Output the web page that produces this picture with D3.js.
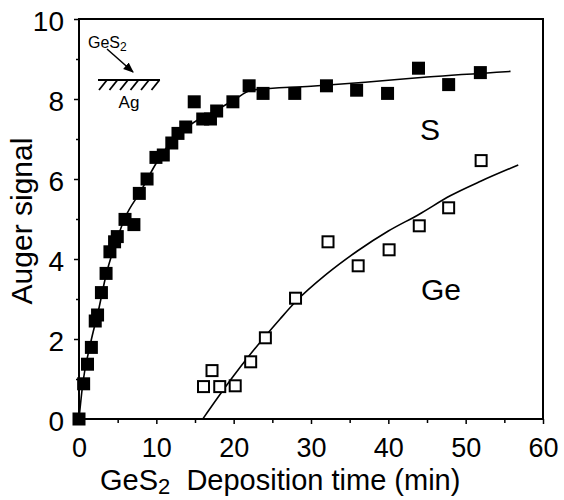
<!DOCTYPE html>
<html>
<head>
<meta charset="utf-8">
<script src="https://cdn.jsdelivr.net/npm/d3@7"></script>
<style>
  body { margin: 0; background: #fff; }
  text { font-family: "Liberation Sans", Arial, sans-serif; fill: #000; }
</style>
</head>
<body>
<div class="chart"></div>
<script>
// S signal (filled squares)
const sTime   = [0, 0.6, 1.1, 1.6, 2.1, 2.4, 2.9, 3.5, 4.0, 4.6, 4.95, 5.95, 7.1, 7.8, 8.8, 9.95, 10.9, 12.0, 12.8, 13.8, 14.9, 16.0, 17.0, 17.8, 19.9, 22.0, 23.8, 27.9, 32.0, 35.9, 39.9, 43.9, 47.8, 51.9];
const sSignal = [0, 0.88, 1.37, 1.79, 2.45, 2.6, 3.16, 3.64, 4.18, 4.43, 4.56, 4.99, 4.86, 5.64, 6.0, 6.54, 6.6, 6.9, 7.14, 7.3, 7.93, 7.5, 7.5, 7.7, 7.93, 8.33, 8.14, 8.14, 8.33, 8.22, 8.14, 8.77, 8.36, 8.66];
// S fit curve
const sFitTime   = [0, 0.5, 1.5, 2.5, 3.5, 5, 6, 8, 10, 12, 14, 16, 18, 20, 22.3, 30, 37, 45, 55.8];
const sFitSignal = [0, 0.9, 1.9, 2.7, 3.6, 4.55, 5.05, 5.7, 6.4, 6.95, 7.3, 7.55, 7.75, 7.97, 8.22, 8.32, 8.42, 8.55, 8.69];

// Ge signal (open squares)
const geTime   = [16.1, 17.2, 18.2, 20.2, 22.2, 24.1, 28.0, 32.2, 36.1, 40.1, 44.0, 47.8, 52.0];
const geSignal = [0.81, 1.21, 0.81, 0.83, 1.43, 2.03, 3.02, 4.43, 3.83, 4.23, 4.83, 5.28, 6.46];
// Ge fit curve
const geFitTime   = [16, 18, 20, 22, 24, 26, 28, 32, 36, 40, 44, 48, 52, 56.8];
const geFitSignal = [0, 0.55, 1.08, 1.58, 2.05, 2.5, 2.93, 3.62, 4.2, 4.7, 5.12, 5.58, 5.95, 6.35];

const xTicks = [0, 10, 20, 30, 40, 50, 60];
const yTicks = [0, 2, 4, 6, 8, 10];

const W = 564, H = 500;
const margin = {top: 19, right: 21, bottom: 81, left: 79};
const width = W - margin.left - margin.right;
const height = H - margin.top - margin.bottom;

const svg = d3.select('.chart').append('svg')
    .attr('width', W)
    .attr('height', H)
  .append('g')
    .attr('transform', `translate(${margin.left},${margin.top})`);

const x = d3.scaleLinear().domain([0, 60]).range([0, width]);
const y = d3.scaleLinear().domain([0, 10]).range([height, 0]);

// minor ticks
svg.append('g')
    .attr('transform', `translate(0,${height})`)
    .call(d3.axisBottom(x).tickValues(d3.range(5, 60, 10)).tickSize(4).tickFormat(''))
    .call(g => g.select('.domain').remove())
    .selectAll('line').attr('stroke-width', 1.5);

svg.append('g')
    .call(d3.axisLeft(y).tickValues(d3.range(1, 10, 2)).tickSize(3).tickFormat(''))
    .call(g => g.select('.domain').remove())
    .selectAll('line').attr('stroke-width', 1.5);

// major ticks
svg.append('g')
    .attr('transform', `translate(0,${height})`)
    .call(d3.axisBottom(x).tickValues(xTicks).tickSize(5).tickPadding(14))
    .call(g => g.select('.domain').remove())
    .call(g => g.selectAll('line').attr('stroke-width', 1.5))
    .selectAll('text')
    .attr('font-size', 27)
    .attr('font-family', '"Liberation Sans", Arial, sans-serif');

svg.append('g')
    .call(d3.axisLeft(y).tickValues(yTicks).tickSize(5).tickPadding(10))
    .call(g => g.select('.domain').remove())
    .call(g => g.selectAll('line').attr('stroke-width', 1.5))
    .selectAll('text')
    .attr('font-size', 28)
    .attr('dy', '0.4em')
    .attr('font-family', '"Liberation Sans", Arial, sans-serif');

// frame
svg.append('rect')
    .attr('width', width)
    .attr('height', height)
    .attr('fill', 'none')
    .attr('stroke', '#000')
    .attr('stroke-width', 2);

const line = d3.line()
    .curve(d3.curveMonotoneX)
    .x(d => x(d[0]))
    .y(d => y(d[1]));

svg.append('path')
    .datum(d3.zip(sFitTime, sFitSignal))
    .attr('fill', 'none')
    .attr('stroke', '#000')
    .attr('stroke-width', 1.6)
    .attr('d', line);

svg.append('path')
    .datum(d3.zip(geFitTime, geFitSignal))
    .attr('fill', 'none')
    .attr('stroke', '#000')
    .attr('stroke-width', 1.6)
    .attr('d', line);

const sq = 13;
svg.append('g')
    .selectAll('rect')
    .data(d3.zip(sTime, sSignal))
    .join('rect')
    .attr('x', d => x(d[0]) - sq / 2)
    .attr('y', d => y(d[1]) - sq / 2)
    .attr('width', sq)
    .attr('height', sq)
    .attr('fill', '#000');

const osq = 11;
svg.append('g')
    .selectAll('rect')
    .data(d3.zip(geTime, geSignal))
    .join('rect')
    .attr('x', d => x(d[0]) - osq / 2)
    .attr('y', d => y(d[1]) - osq / 2)
    .attr('width', osq)
    .attr('height', osq)
    .attr('fill', '#fff')
    .attr('stroke', '#000')
    .attr('stroke-width', 2);

// series labels
svg.append('text')
    .attr('x', x(45.4))
    .attr('y', y(6.97))
    .attr('text-anchor', 'middle')
    .attr('font-size', 30)
    .text('S');

svg.append('text')
    .attr('x', x(46.8))
    .attr('y', y(2.97))
    .attr('text-anchor', 'middle')
    .attr('font-size', 30)
    .text('Ge');

// inset sketch: GeS2 arriving on Ag
const inset = svg.append('g');
const insetText = inset.append('text')
    .attr('x', 9)
    .attr('y', 29)
    .attr('font-size', 16);
insetText.append('tspan').text('GeS');
insetText.append('tspan').attr('font-size', 12).attr('dy', 3).text('2');

svg.append('defs').append('marker')
    .attr('id', 'arrow')
    .attr('viewBox', '0 0 10 10')
    .attr('refX', 9).attr('refY', 5)
    .attr('markerWidth', 7).attr('markerHeight', 7)
    .attr('orient', 'auto')
  .append('path')
    .attr('d', 'M0,1 L10,5 L0,9 Z')
    .attr('fill', '#000');

inset.append('line')
    .attr('x1', 28).attr('y1', 30)
    .attr('x2', 54).attr('y2', 53)
    .attr('stroke', '#000')
    .attr('stroke-width', 1.5)
    .attr('marker-end', 'url(#arrow)');

inset.append('line')
    .attr('x1', 19).attr('y1', 61)
    .attr('x2', 81).attr('y2', 61)
    .attr('stroke', '#000')
    .attr('stroke-width', 2);

inset.selectAll('.hatch')
    .data(d3.range(6))
    .join('line')
    .attr('class', 'hatch')
    .attr('x1', i => 28 + i * 10.5).attr('y1', 61)
    .attr('x2', i => 20 + i * 10.5).attr('y2', 71)
    .attr('stroke', '#000')
    .attr('stroke-width', 1.8);

inset.append('text')
    .attr('x', 50)
    .attr('y', 89)
    .attr('text-anchor', 'middle')
    .attr('font-size', 17)
    .text('Ag');

// axis titles
svg.append('text')
    .attr('transform', `translate(${-47},${height / 2 + 2}) rotate(-90)`)
    .attr('text-anchor', 'middle')
    .attr('font-size', 30)
    .text('Auger signal');

const xt = svg.append('text')
    .attr('x', 21)
    .attr('y', height + 71)
    .attr('font-size', 29);
xt.append('tspan').text('GeS');
xt.append('tspan').attr('font-size', 22).attr('dy', 4).text('2');
xt.append('tspan').attr('dy', -4).text('\u00a0 Deposition time (min)');
</script>
</body>
</html>
